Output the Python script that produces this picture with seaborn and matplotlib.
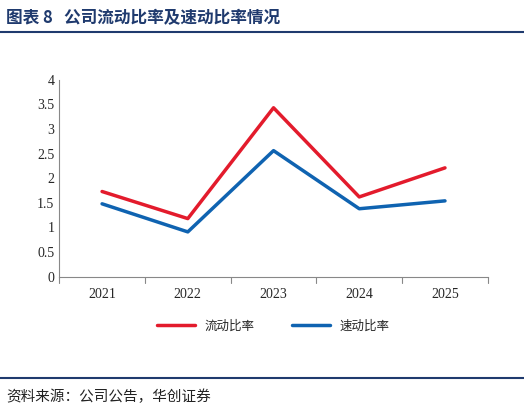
import matplotlib
matplotlib.use("Agg")
import matplotlib.pyplot as plt
import seaborn as sns
import pandas as pd

years = ["2021", "2022", "2023", "2024", "2025"]
current_ratio = [1.73, 1.18, 3.43, 1.62, 2.21]
quick_ratio = [1.48, 0.91, 2.56, 1.38, 1.54]
yticks = [0, 0.5, 1, 1.5, 2, 2.5, 3, 3.5, 4]
ytick_labels = ["0", "0.5", "1", "1.5", "2", "2.5", "3", "3.5", "4"]

sns.set_style("white")
plt.rcParams['font.family'] = ['Noto Sans CJK SC', 'DejaVu Sans']

df = pd.DataFrame({"year": years * 2,
                   "value": current_ratio + quick_ratio,
                   "series": ["流动比率"] * 5 + ["速动比率"] * 5})

fig = plt.figure(figsize=(5.24, 4.13), dpi=100)
ax = fig.add_axes([0.113, 0.33, 0.818, 0.477])
sns.lineplot(data=df, x="year", y="value", hue="series",
             palette=["#E31B2C", "#0F63B1"], linewidth=2.5, ax=ax, sort=False)
ax.set_ylim(0, 4)
ax.set_xlim(-0.5, 4.5)
ax.set_yticks(yticks)
ax.set_yticklabels(ytick_labels, family="Liberation Serif", fontsize=10)
for t in ax.get_xticklabels():
    t.set_family("Liberation Serif"); t.set_fontsize(10)
ax.set_xlabel(""); ax.set_ylabel("")
for s in ["top", "right"]:
    ax.spines[s].set_visible(False)
ax.spines["left"].set_color("#888888")
ax.spines["bottom"].set_color("#888888")
ax.tick_params(axis="x", length=0, pad=8)
ax.tick_params(axis="y", length=0)
for i in range(6):
    ax.axvline(i - 0.5, ymin=-0.03, ymax=0, color="#888888", lw=0.8, clip_on=False)
ax.legend(loc="upper center", bbox_to_anchor=(0.5, -0.16), ncol=2, frameon=False,
          fontsize=9, handlelength=3, columnspacing=3)

fig.text(0.012, 0.955, "图表 8   公司流动比率及速动比率情况", fontsize=12,
         fontweight="bold", color="#1F3A6E", va="center")
fig.add_artist(plt.Line2D([0.0, 1.0], [0.922, 0.922], color="#1F3A6E", lw=1.5))
fig.add_artist(plt.Line2D([0.0, 1.0], [0.085, 0.085], color="#1F3A6E", lw=1.5))
fig.text(0.012, 0.038, "资料来源：公司公告，华创证券", fontsize=10.5, style="italic",
         color="#222222", va="center")
fig.savefig("out.png", dpi=100)
